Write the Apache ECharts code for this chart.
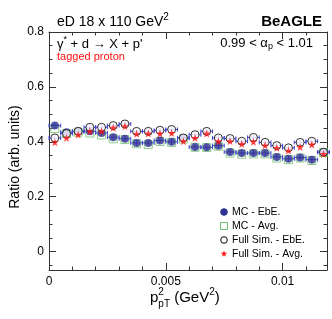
<!DOCTYPE html>
<html><head><meta charset="utf-8">
<script src="https://cdn.jsdelivr.net/npm/echarts@6/dist/echarts.min.js"></script>
<style>html,body{margin:0;padding:0;background:#fff}#c{width:332px;height:319px}</style>
</head><body><div id="c"></div>
<script>
// bin centres (GeV^2), bin half width
const binCenters = [0.00025,0.00075,0.00125,0.00175,0.00225,0.00275,0.00325,0.00375,0.00425,0.00475,0.00525,0.00575,0.00625,0.00675,0.00725,0.00775,0.00825,0.00875,0.00925,0.00975,0.01025,0.01075,0.01125,0.01175];
const binHalfWidth = 0.00025;
const mcEbE   = [0.459,0.435,0.438,0.438,0.432,0.417,0.411,0.396,0.396,0.405,0.400,0.414,0.381,0.380,0.386,0.363,0.359,0.359,0.359,0.345,0.338,0.343,0.335,0.363];
const mcAvg   = [0.448,0.430,0.435,0.432,0.425,0.411,0.408,0.393,0.390,0.401,0.398,0.410,0.380,0.379,0.384,0.359,0.355,0.356,0.356,0.341,0.335,0.341,0.332,0.361];
const simEbE  = [0.414,0.430,0.438,0.453,0.453,0.459,0.465,0.438,0.438,0.442,0.445,0.414,0.426,0.438,0.414,0.412,0.402,0.416,0.398,0.386,0.378,0.398,0.402,0.362];
const simAvg  = [0.398,0.414,0.426,0.438,0.438,0.451,0.457,0.429,0.430,0.430,0.432,0.402,0.414,0.430,0.402,0.402,0.392,0.400,0.387,0.378,0.368,0.381,0.390,0.356];
const yErr    = [0.011,0.010,0.010,0.010,0.010,0.010,0.010,0.010,0.010,0.010,0.010,0.010,0.010,0.010,0.010,0.010,0.010,0.010,0.010,0.011,0.011,0.011,0.011,0.012];
const xLabels = [0,0.005,0.01];
const yMajor = [0,0.2,0.4,0.6,0.8];
const yMinor = [-0.05,0.05,0.1,0.15,0.25,0.3,0.35,0.45,0.5,0.55,0.65,0.7,0.75];
const legendNames = ['MC - EbE.','MC - Avg.','Full Sim. - EbE.','Full Sim. - Avg.'];

const FONT = 'Liberation Sans, Arial, Helvetica, sans-serif';
const BLUE = '#2e3192', ERRC = '#4040d0', GREEN = '#6cbf6c', RED = '#ff1010';
const STAR = 'path://M50,0 L61.8,35.4 L99,35.4 L69,57.3 L80.4,92.7 L50,70.8 L19.6,92.7 L31,57.3 L1,35.4 L38.2,35.4 Z';

const chart = echarts.init(document.getElementById('c'), null, {renderer:'canvas'});
const ctx = document.createElement('canvas').getContext('2d');
function tw(t, size, bold){ ctx.font = (bold?'bold ':'') + size + 'px ' + FONT; return ctx.measureText(t).width; }
function runs(x, y, parts, align){
  let total = 0; const pos = [];
  let i = 0;
  while (i < parts.length){
    const p = parts[i];
    if (p.stackWith){
      const q = parts[i+1];
      pos.push(total); pos.push(total);
      total += Math.max(tw(p.t,p.size,p.bold), tw(q.t,q.size,q.bold));
      i += 2;
    } else { pos.push(total); total += tw(p.t,p.size,p.bold); i++; }
  }
  const x0 = align === 'right' ? x - total : (align === 'center' ? x - total/2 : x);
  return parts.map((p,k)=>({type:'text', x: x0 + pos[k], y: y + (p.dy||0), silent:true,
    style:{text:p.t, fontSize:p.size, fontWeight:p.bold?'bold':'normal', fontFamily:FONT, fill:p.color||'#000', align:'left', verticalAlign:'middle'}}));
}

function errSeries(vals){
  return {type:'custom', z:1, silent:true,
    data: binCenters.map((x,i)=>[x, vals[i], yErr[i]]),
    renderItem(params, api){
      const x = api.value(0), y = api.value(1), e = api.value(2);
      const l = api.coord([x-binHalfWidth, y]), r = api.coord([x+binHalfWidth, y]);
      const t = api.coord([x, y+e]), b = api.coord([x, y-e]);
      const st = {stroke: ERRC, lineWidth: 1};
      return {type:'group', children:[
        {type:'line', shape:{x1:l[0], y1:l[1], x2:r[0], y2:r[1]}, style:st},
        {type:'line', shape:{x1:t[0], y1:t[1], x2:b[0], y2:b[1]}, style:st},
        {type:'line', shape:{x1:l[0], y1:l[1]-2, x2:l[0], y2:l[1]+2}, style:st},
        {type:'line', shape:{x1:r[0], y1:r[1]-2, x2:r[0], y2:r[1]+2}, style:st}
      ]};
    }};
}
function pts(vals){ return binCenters.map((x,i)=>[x, vals[i]]); }

const axLine = {show:true, onZero:false, lineStyle:{color:'#333', width:1}};
const xBase = {type:'value', min:0, max:0.0119, interval:0.005, splitLine:{show:false},
  axisLine:axLine, axisTick:{show:true, inside:true, length:7, lineStyle:{color:'#333'}},
  minorTick:{show:true, splitNumber:5, length:3.5, lineStyle:{color:'#333'}}};
function yAx(pos, major, labels){
  return {type:'value', position:pos, min:-0.067, max:0.8, splitLine:{show:false},
    axisLine: major ? axLine : {show:false, onZero:false},
    axisTick:{show:true, inside:true, length: major?7:3.5, customValues: major? yMajor : yMinor, lineStyle:{color:'#333'}},
    axisLabel: labels ? {show:true, customValues:yMajor, fontSize:12, fontFamily:FONT, color:'#000', margin:5, formatter:v=>String(+v.toFixed(2))} : {show:false}};
}

const graphics = [].concat(
  runs(57, 22, [{t:'eD 18 x 110 GeV',size:14},{t:'2',size:10,dy:-5}]),
  runs(322, 22, [{t:'BeAGLE',size:15,bold:true}], 'right'),
  runs(57, 44, [{t:'γ',size:13},{t:'*',size:9,dy:-4},{t:' + d → X + p\'',size:13}]),
  runs(313, 43, [{t:'0.99 < α',size:13},{t:'p',size:9,dy:4},{t:' < 1.01',size:13}], 'right'),
  runs(57, 57, [{t:'tagged proton',size:11,color:RED}]),
  runs(150, 298, [{t:'p',size:15},{t:'2',size:10,dy:-6,stackWith:true},{t:'pT',size:10,dy:6},{t:' (GeV',size:15},{t:'2',size:10,dy:-6},{t:')',size:15}]),
  [{type:'text', x:15, y:157, rotation:Math.PI/2, silent:true,
    style:{text:'Ratio (arb. units)', fontSize:14, fontFamily:FONT, fill:'#000', align:'center', verticalAlign:'middle'}}]
);
// legend
const legX = 224, legTX = 232;
const legY = [212, 226, 240, 254];
const legSym = [
  {type:'circle', shape:{cx:legX, cy:legY[0], r:3.3}, style:{fill:BLUE, stroke:BLUE}},
  {type:'rect', shape:{x:legX-3.5, y:legY[1]-3.5, width:7, height:7}, style:{fill:'none', stroke:GREEN, lineWidth:1}},
  {type:'circle', shape:{cx:legX, cy:legY[2], r:3.3}, style:{fill:'#fff', stroke:'#000', lineWidth:1}}
];
legSym.forEach(s=>{s.silent=true; graphics.push(s);});
graphics.push({type:'polygon', silent:true, shape:{points:[[50,0],[61.8,35.4],[99,35.4],[69,57.3],[80.4,92.7],[50,70.8],[19.6,92.7],[31,57.3],[1,35.4],[38.2,35.4]].map(p=>[legX+(p[0]-50)*0.07, legY[3]+(p[1]-52)*0.07])}, style:{fill:RED}});
legendNames.forEach((n,i)=>graphics.push(...runs(legTX, legY[i], [{t:n,size:10.5}])));

chart.setOption({
  animation:false,
  backgroundColor:'#fff',
  grid:{left:49, right:5, top:32, bottom:49, show:false},
  xAxis:[Object.assign({position:'bottom', axisLabel:{customValues:xLabels, fontSize:12, fontFamily:FONT, color:'#000', margin:6, formatter:v=>String(+v.toFixed(4))}}, xBase),
         Object.assign({position:'top', axisLabel:{show:false}}, xBase)],
  yAxis:[yAx('left',true,true), yAx('left',false,false), yAx('right',true,false), yAx('right',false,false)],
  graphic:graphics,
  series:[
    errSeries(mcEbE), errSeries(simEbE),
    {type:'scatter', name:legendNames[1], z:2, symbol:'rect', symbolSize:8, data:pts(mcAvg), itemStyle:{color:'rgba(0,0,0,0)', borderColor:GREEN, borderWidth:1}},
    {type:'scatter', name:legendNames[0], z:3, symbol:'circle', symbolSize:8, data:pts(mcEbE), itemStyle:{color:BLUE}},
    {type:'scatter', name:legendNames[2], z:4, symbol:'circle', symbolSize:8, data:pts(simEbE), itemStyle:{color:'#fff', borderColor:'#000', borderWidth:1}},
    {type:'scatter', name:legendNames[3], z:5, symbol:STAR, symbolSize:8, data:pts(simAvg), itemStyle:{color:RED}}
  ]
});
</script></body></html>
